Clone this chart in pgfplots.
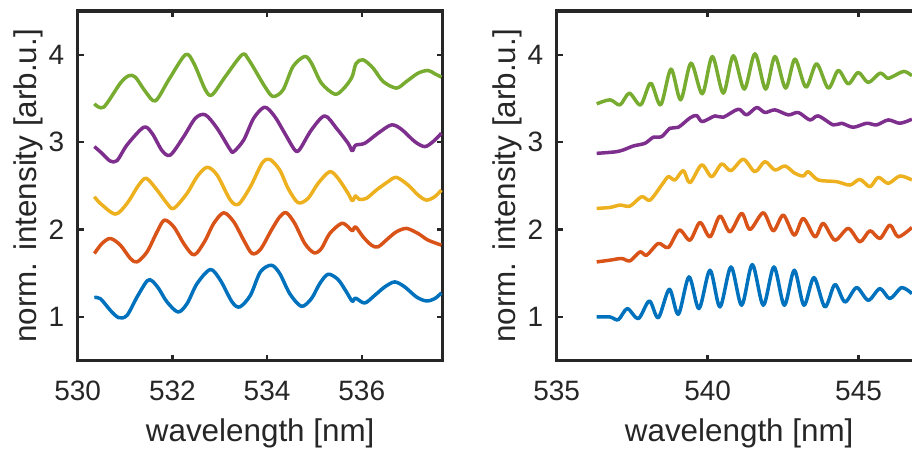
\documentclass[border=0pt]{standalone}
\usepackage{fontspec}
\setmainfont{Liberation Sans}
\usepackage{pgfplots}
\pgfplotsset{compat=1.18}
\definecolor{mblue}{rgb}{0,0.447,0.741}
\definecolor{morange}{rgb}{0.85,0.325,0.098}
\definecolor{myellow}{rgb}{0.929,0.694,0.125}
\definecolor{mpurple}{rgb}{0.494,0.184,0.556}
\definecolor{mgreen}{rgb}{0.466,0.674,0.188}
\definecolor{axgray}{rgb}{0.15,0.15,0.15}
\pgfplotsset{
  mstyle/.style={
    scale only axis, width=182.5pt, height=174.85pt,
    ymin=0.5, ymax=4.5, ytick={1,2,3,4},
    axis line style={axgray, line width=1.6pt},
    tick style={axgray, line width=1.2pt},
    major tick length=3pt,
    tick align=inside,
    tick label style={font=\fontsize{14}{16}\selectfont, text=axgray},
    xticklabel style={inner sep=0pt, yshift=-10pt},
    yticklabel style={inner sep=0pt, xshift=-6.5pt},
    /pgf/number format/assume math mode=true,
    every axis x label/.style={at={(axis description cs:0.5,-0.2316)}, anchor=base,
      font=\fontsize{15.7}{18}\selectfont, text=axgray},
    every axis y label/.style={at={(axis description cs:-0.1142,0.5)}, rotate=90, anchor=base,
      font=\fontsize{15.7}{18}\selectfont, text=axgray},
    xlabel={wavelength [nm]}, ylabel={norm. intensity [arb.u.]},
    every axis plot/.append style={line width=1.75pt, smooth, line join=round},
  }
}
\begin{document}
\begin{tikzpicture}
\begin{axis}[mstyle, at={(38.85pt,44.65pt)}, anchor=south west,
  xmin=530, xmax=537.71, xtick={530,532,534,536}]
% blue
\addplot[mblue] coordinates {
(530.352,1.222)(530.479,1.210)(530.690,1.076)(530.866,0.992)(531.042,1.019)
(531.254,1.229)(531.465,1.413)(531.570,1.413)(531.711,1.325)(531.887,1.172)
(532.120,1.057)(532.310,1.153)(532.521,1.382)(532.803,1.543)(533.014,1.420)
(533.261,1.172)(533.423,1.115)(533.648,1.248)(533.859,1.516)(534.092,1.592)
(534.268,1.497)(534.479,1.267)(534.725,1.122)(534.937,1.210)(535.113,1.382)
(535.289,1.489)(535.500,1.428)(535.676,1.287)(535.800,1.180)(535.870,1.215)
(536.063,1.160)(536.275,1.248)(536.486,1.344)(536.697,1.401)(536.908,1.344)
(537.155,1.229)(537.366,1.183)(537.542,1.210)(537.683,1.275)};
% orange
\addplot[morange] coordinates {
(530.352,1.726)(530.514,1.841)(530.690,1.898)(530.901,1.822)(531.113,1.669)
(531.254,1.630)(531.465,1.745)(531.676,1.974)(531.831,2.108)(532.028,2.032)
(532.239,1.841)(532.415,1.718)(532.521,1.734)(532.697,1.879)(532.873,2.070)
(533.085,2.192)(533.296,2.089)(533.507,1.879)(533.683,1.726)(533.859,1.772)
(534.092,1.994)(534.268,2.146)(534.408,2.192)(534.585,2.070)(534.796,1.841)
(534.993,1.734)(535.148,1.783)(535.324,1.955)(535.570,2.070)(535.711,2.032)
(535.800,1.985)(535.870,2.030)(536.028,1.917)(536.204,1.822)(536.345,1.802)
(536.556,1.898)(536.732,1.974)(536.944,2.013)(537.190,1.955)(537.401,1.879)
(537.683,1.822)};
% yellow
\addplot[myellow] coordinates {
(530.352,2.376)(530.479,2.299)(530.796,2.177)(531.042,2.299)(531.289,2.509)
(531.451,2.586)(531.676,2.452)(531.887,2.299)(532.028,2.242)(532.310,2.414)
(532.521,2.605)(532.732,2.712)(532.944,2.624)(533.225,2.337)(533.401,2.292)
(533.648,2.490)(533.894,2.758)(534.056,2.804)(534.268,2.681)(534.444,2.471)
(534.655,2.307)(534.866,2.357)(535.077,2.528)(535.324,2.662)(535.500,2.586)
(535.711,2.414)(535.800,2.330)(535.870,2.385)(535.950,2.345)(536.099,2.357)
(536.310,2.452)(536.556,2.548)(536.732,2.597)(536.979,2.509)(537.190,2.395)
(537.366,2.337)(537.542,2.376)(537.683,2.452)};
% purple
\addplot[mpurple] coordinates {
(530.352,2.949)(530.514,2.872)(530.683,2.785)(530.831,2.788)(531.042,2.968)
(531.394,3.170)(531.570,3.102)(531.782,2.903)(531.958,2.853)(532.239,3.063)
(532.486,3.274)(532.697,3.312)(532.944,3.159)(533.225,2.911)(533.296,2.891)
(533.507,3.025)(533.718,3.274)(533.951,3.400)(534.162,3.293)(534.373,3.102)
(534.585,2.911)(534.690,2.918)(534.937,3.140)(535.218,3.300)(535.465,3.159)
(535.711,2.987)(535.800,2.900)(535.870,2.965)(536.063,2.987)(536.345,3.102)
(536.627,3.197)(536.838,3.147)(537.120,3.006)(537.331,2.949)(537.507,3.006)
(537.683,3.102)};
% green
\addplot[mgreen] coordinates {
(530.352,3.438)(530.549,3.400)(530.901,3.675)(531.077,3.759)(531.218,3.744)
(531.430,3.579)(531.641,3.472)(531.923,3.713)(532.275,4.000)(532.451,3.904)
(532.697,3.598)(532.838,3.541)(533.120,3.751)(533.472,4.000)(533.613,3.942)
(533.951,3.637)(534.127,3.522)(534.338,3.598)(534.549,3.866)(534.796,3.980)
(534.937,3.904)(535.148,3.675)(535.430,3.549)(535.606,3.606)(535.790,3.740)
(535.880,3.900)(536.028,3.942)(536.239,3.847)(536.451,3.694)(536.732,3.618)
(536.944,3.694)(537.190,3.789)(537.401,3.820)(537.542,3.782)(537.683,3.744)};
\end{axis}
\begin{axis}[mstyle, at={(278.35pt,44.65pt)}, anchor=south west,
  xmin=535, xmax=547.09, xtick={535,540,545}]
% blue
\addplot[mblue] coordinates {
(536.325,1.000)(536.766,1.000)(537.042,0.969)(537.340,1.096)(537.704,0.981)
(538.068,1.183)(538.366,0.992)(538.731,1.317)(539.029,1.031)(539.382,1.459)
(539.713,1.096)(540.077,1.535)(540.408,1.115)(540.773,1.573)(541.126,1.134)
(541.479,1.600)(541.843,1.134)(542.196,1.573)(542.539,1.134)(542.870,1.535)
(543.190,1.134)(543.521,1.451)(543.885,1.115)(544.216,1.371)(544.548,1.172)
(544.934,1.336)(545.320,1.191)(545.706,1.325)(546.038,1.210)(546.424,1.336)
(546.766,1.267)};
% orange
\addplot[morange] coordinates {
(536.325,1.630)(536.766,1.650)(537.152,1.669)(537.428,1.642)(537.759,1.745)
(537.980,1.707)(538.366,1.841)(538.698,1.795)(539.062,1.994)(539.415,1.879)
(539.746,2.081)(540.077,1.917)(540.408,2.154)(540.740,1.974)(541.126,2.185)
(541.402,2.001)(541.843,2.192)(542.174,1.986)(542.506,2.165)(542.870,1.936)
(543.168,2.127)(543.554,1.917)(543.830,2.070)(544.216,1.879)(544.658,2.013)
(545.044,1.860)(545.375,1.986)(545.706,1.898)(546.038,2.051)(546.313,1.917)
(546.766,2.024)};
% yellow
\addplot[myellow] coordinates {
(536.325,2.242)(536.766,2.253)(537.097,2.280)(537.428,2.269)(537.815,2.376)
(538.091,2.337)(538.477,2.509)(538.698,2.605)(538.918,2.567)(539.194,2.674)
(539.415,2.536)(539.801,2.739)(540.132,2.605)(540.464,2.750)(540.773,2.674)
(541.181,2.804)(541.567,2.662)(541.898,2.777)(542.230,2.681)(542.561,2.727)
(542.892,2.643)(543.168,2.613)(543.333,2.662)(543.664,2.567)(544.272,2.548)
(544.713,2.509)(545.044,2.574)(545.375,2.490)(545.651,2.597)(545.982,2.528)
(546.369,2.613)(546.766,2.567)};
% purple
\addplot[mpurple] coordinates {
(536.325,2.872)(536.656,2.880)(536.987,2.891)(537.208,2.911)(537.539,2.956)
(537.925,2.987)(538.201,3.056)(538.477,3.063)(538.753,3.159)(539.029,3.170)
(539.415,3.277)(539.636,3.304)(539.823,3.235)(540.243,3.300)(540.519,3.285)
(541.015,3.377)(541.291,3.312)(541.623,3.396)(541.898,3.339)(542.230,3.369)
(542.671,3.312)(543.002,3.339)(543.389,3.254)(543.664,3.300)(544.161,3.197)
(544.437,3.216)(544.823,3.170)(545.265,3.216)(545.596,3.197)(545.982,3.254)
(546.369,3.216)(546.766,3.262)};
% green
\addplot[mgreen] coordinates {
(536.325,3.438)(536.766,3.484)(537.097,3.426)(537.406,3.560)(537.781,3.426)
(538.113,3.675)(538.444,3.426)(538.786,3.835)(539.106,3.484)(539.448,3.904)
(539.823,3.553)(540.155,3.980)(540.519,3.560)(540.850,3.988)(541.214,3.606)
(541.567,4.011)(541.921,3.606)(542.230,3.980)(542.583,3.618)(542.892,3.950)
(543.256,3.629)(543.609,3.896)(543.996,3.618)(544.327,3.820)(544.658,3.667)
(544.989,3.797)(545.320,3.682)(545.706,3.789)(545.949,3.732)(546.093,3.744)
(546.501,3.809)(546.766,3.759)};
\end{axis}
\pgfresetboundingbox
\useasboundingbox (0,0) rectangle (456pt,225pt);
\end{tikzpicture}
\end{document}
